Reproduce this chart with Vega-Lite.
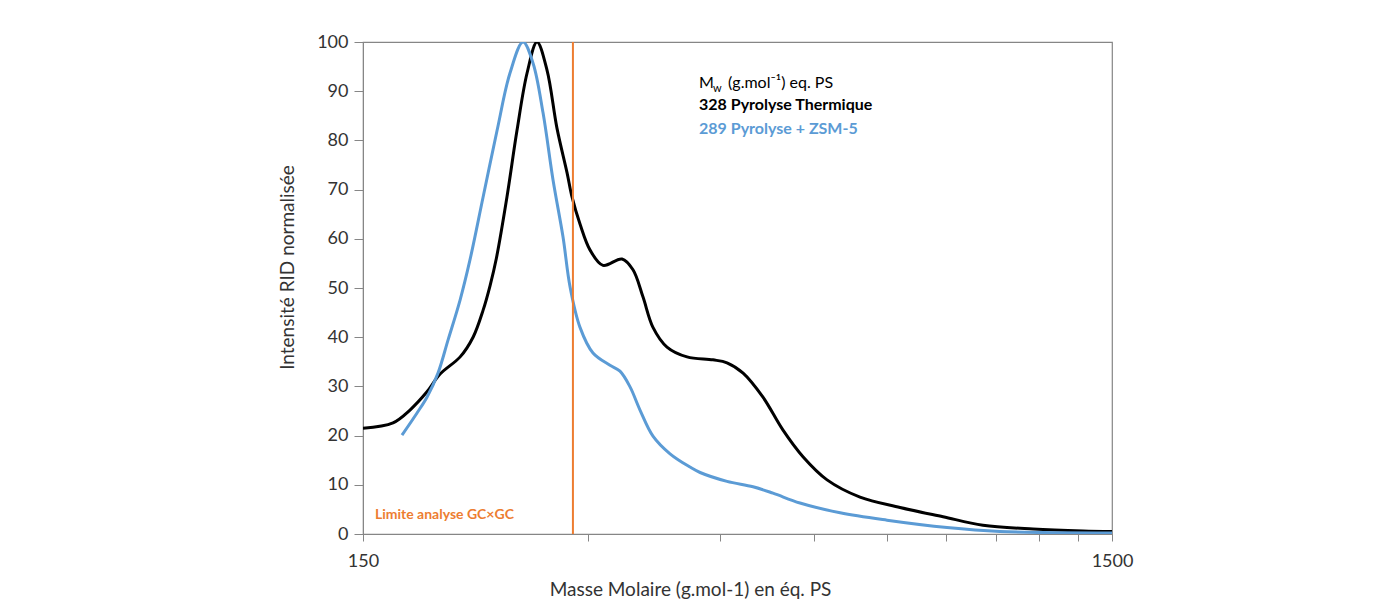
{
  "$schema": "https://vega.github.io/schema/vega-lite/v6.json",
  "width": 749,
  "height": 492,
  "autosize": {"type": "none"},
  "padding": {"left": 363, "top": 42, "right": 279, "bottom": 77},
  "background": "white",
  "config": {
    "view": {"stroke": "#868686", "strokeWidth": 1.2},
    "font": "Lato",
    "axis": {"domainColor": "#868686", "tickColor": "#868686", "labelColor": "#333333", "titleColor": "#333333", "labelFont": "Lato", "titleFont": "Lato", "titleFontWeight": "normal", "grid": false}
  },
  "layer": [
    {
      "data": {"values": [
        {"m": 150, "v": 21.5, "s": "328 Pyrolyse Thermique"},
        {"m": 164.5, "v": 22.6, "s": "328 Pyrolyse Thermique"},
        {"m": 173.3, "v": 25.2, "s": "328 Pyrolyse Thermique"},
        {"m": 182.6, "v": 28.9, "s": "328 Pyrolyse Thermique"},
        {"m": 190.1, "v": 32.5, "s": "328 Pyrolyse Thermique"},
        {"m": 202.2, "v": 36.0, "s": "328 Pyrolyse Thermique"},
        {"m": 210.4, "v": 40.0, "s": "328 Pyrolyse Thermique"},
        {"m": 217.0, "v": 45.5, "s": "328 Pyrolyse Thermique"},
        {"m": 221.7, "v": 50.5, "s": "328 Pyrolyse Thermique"},
        {"m": 226.0, "v": 56.0, "s": "328 Pyrolyse Thermique"},
        {"m": 233.5, "v": 68.5, "s": "328 Pyrolyse Thermique"},
        {"m": 240.8, "v": 82.0, "s": "328 Pyrolyse Thermique"},
        {"m": 248.4, "v": 93.7, "s": "328 Pyrolyse Thermique"},
        {"m": 256.1, "v": 100.0, "s": "328 Pyrolyse Thermique"},
        {"m": 264.1, "v": 94.3, "s": "328 Pyrolyse Thermique"},
        {"m": 272.3, "v": 82.5, "s": "328 Pyrolyse Thermique"},
        {"m": 280.9, "v": 73.4, "s": "328 Pyrolyse Thermique"},
        {"m": 285.2, "v": 68.5, "s": "328 Pyrolyse Thermique"},
        {"m": 292.3, "v": 63.0, "s": "328 Pyrolyse Thermique"},
        {"m": 301.5, "v": 57.7, "s": "328 Pyrolyse Thermique"},
        {"m": 313.7, "v": 54.6, "s": "328 Pyrolyse Thermique"},
        {"m": 332.6, "v": 55.9, "s": "328 Pyrolyse Thermique"},
        {"m": 344.0, "v": 53.7, "s": "328 Pyrolyse Thermique"},
        {"m": 354.7, "v": 48.2, "s": "328 Pyrolyse Thermique"},
        {"m": 365.8, "v": 42.0, "s": "328 Pyrolyse Thermique"},
        {"m": 381.9, "v": 38.0, "s": "328 Pyrolyse Thermique"},
        {"m": 406.2, "v": 36.0, "s": "328 Pyrolyse Thermique"},
        {"m": 439.9, "v": 35.4, "s": "328 Pyrolyse Thermique"},
        {"m": 459.3, "v": 34.8, "s": "328 Pyrolyse Thermique"},
        {"m": 482.6, "v": 32.7, "s": "328 Pyrolyse Thermique"},
        {"m": 513.0, "v": 27.8, "s": "328 Pyrolyse Thermique"},
        {"m": 545.6, "v": 21.1, "s": "328 Pyrolyse Thermique"},
        {"m": 580.1, "v": 15.7, "s": "328 Pyrolyse Thermique"},
        {"m": 624.7, "v": 11.0, "s": "328 Pyrolyse Thermique"},
        {"m": 691.3, "v": 7.5, "s": "328 Pyrolyse Thermique"},
        {"m": 781.8, "v": 5.4, "s": "328 Pyrolyse Thermique"},
        {"m": 892.3, "v": 3.5, "s": "328 Pyrolyse Thermique"},
        {"m": 1008.8, "v": 1.8, "s": "328 Pyrolyse Thermique"},
        {"m": 1176.5, "v": 1.0, "s": "328 Pyrolyse Thermique"},
        {"m": 1372.1, "v": 0.6, "s": "328 Pyrolyse Thermique"},
        {"m": 1500, "v": 0.5, "s": "328 Pyrolyse Thermique"},
        {"m": 169.1, "v": 20.1, "s": "289 Pyrolyse + ZSM-5"},
        {"m": 177.1, "v": 24.6, "s": "289 Pyrolyse + ZSM-5"},
        {"m": 182.6, "v": 27.8, "s": "289 Pyrolyse + ZSM-5"},
        {"m": 188.9, "v": 32.7, "s": "289 Pyrolyse + ZSM-5"},
        {"m": 194.8, "v": 39.4, "s": "289 Pyrolyse + ZSM-5"},
        {"m": 202.2, "v": 47.6, "s": "289 Pyrolyse + ZSM-5"},
        {"m": 208.4, "v": 55.7, "s": "289 Pyrolyse + ZSM-5"},
        {"m": 217.0, "v": 68.5, "s": "289 Pyrolyse + ZSM-5"},
        {"m": 226.5, "v": 82.0, "s": "289 Pyrolyse + ZSM-5"},
        {"m": 235.7, "v": 93.7, "s": "289 Pyrolyse + ZSM-5"},
        {"m": 245.3, "v": 100.0, "s": "289 Pyrolyse + ZSM-5"},
        {"m": 253.0, "v": 95.7, "s": "289 Pyrolyse + ZSM-5"},
        {"m": 260.9, "v": 85.6, "s": "289 Pyrolyse + ZSM-5"},
        {"m": 269.0, "v": 72.0, "s": "289 Pyrolyse + ZSM-5"},
        {"m": 277.4, "v": 60.4, "s": "289 Pyrolyse + ZSM-5"},
        {"m": 283.5, "v": 50.2, "s": "289 Pyrolyse + ZSM-5"},
        {"m": 292.3, "v": 42.0, "s": "289 Pyrolyse + ZSM-5"},
        {"m": 304.2, "v": 36.8, "s": "289 Pyrolyse + ZSM-5"},
        {"m": 320.5, "v": 34.3, "s": "289 Pyrolyse + ZSM-5"},
        {"m": 330.5, "v": 33.1, "s": "289 Pyrolyse + ZSM-5"},
        {"m": 340.9, "v": 29.9, "s": "289 Pyrolyse + ZSM-5"},
        {"m": 351.5, "v": 25.2, "s": "289 Pyrolyse + ZSM-5"},
        {"m": 365.8, "v": 19.9, "s": "289 Pyrolyse + ZSM-5"},
        {"m": 385.5, "v": 16.3, "s": "289 Pyrolyse + ZSM-5"},
        {"m": 409.9, "v": 13.6, "s": "289 Pyrolyse + ZSM-5"},
        {"m": 422.8, "v": 12.5, "s": "289 Pyrolyse + ZSM-5"},
        {"m": 459.3, "v": 10.7, "s": "289 Pyrolyse + ZSM-5"},
        {"m": 497.5, "v": 9.6, "s": "289 Pyrolyse + ZSM-5"},
        {"m": 529.0, "v": 8.3, "s": "289 Pyrolyse + ZSM-5"},
        {"m": 574.8, "v": 6.3, "s": "289 Pyrolyse + ZSM-5"},
        {"m": 650.3, "v": 4.3, "s": "289 Pyrolyse + ZSM-5"},
        {"m": 751.1, "v": 2.8, "s": "289 Pyrolyse + ZSM-5"},
        {"m": 903.3, "v": 1.3, "s": "289 Pyrolyse + ZSM-5"},
        {"m": 1062.9, "v": 0.5, "s": "289 Pyrolyse + ZSM-5"},
        {"m": 1500, "v": 0.2, "s": "289 Pyrolyse + ZSM-5"}
      ]},
      "mark": {"type": "line", "interpolate": "catmull-rom", "strokeWidth": 3, "clip": true},
      "encoding": {
        "x": {
          "field": "m", "type": "quantitative",
          "scale": {"type": "log", "domain": [150, 1500], "nice": false},
          "axis": {
            "title": "Masse Molaire (g.mol-1) en éq. PS",
            "values": [150, 300, 450, 600, 750, 900, 1050, 1200, 1350, 1500],
            "labelExpr": "datum.value == 150 ? '150' : (datum.value == 1500 ? '1500' : '')",
            "tickSize": 7, "labelPadding": 11, "labelFontSize": 18, "labelFlush": false,
            "titleFontSize": 19, "titleX": 327, "titleY": 55, "titleBaseline": "middle", "titleAlign": "center"
          }
        },
        "y": {
          "field": "v", "type": "quantitative",
          "scale": {"domain": [0, 100], "nice": false},
          "axis": {
            "title": "Intensité RID normalisée",
            "values": [0, 10, 20, 30, 40, 50, 60, 70, 80, 90, 100],
            "tickSize": 9, "labelPadding": 6, "labelFontSize": 18,
            "titleFontSize": 19, "titleX": -76, "titleY": 225, "titleAlign": "center", "titleBaseline": "middle"
          }
        },
        "color": {
          "field": "s", "type": "nominal",
          "scale": {"domain": ["328 Pyrolyse Thermique", "289 Pyrolyse + ZSM-5"], "range": ["#000000", "#5B9BD5"]},
          "legend": null
        },
        "order": {"field": "m", "type": "quantitative"}
      }
    },
    {
      "data": {"values": [{"m": 286}]},
      "mark": {"type": "rule", "color": "#ED7D31", "strokeWidth": 2},
      "encoding": {"x": {"field": "m", "type": "quantitative"}}
    },
    {
      "data": {"values": [
        {"m": 421.4, "v": 90.65, "t": "M"},
        {"m": 460.8, "v": 90.65, "t": "(g.mol⁻¹) eq. PS"}
      ]},
      "mark": {"type": "text", "align": "left", "baseline": "alphabetic", "fontSize": 16, "color": "#000000", "font": "Lato"},
      "encoding": {"x": {"field": "m", "type": "quantitative"}, "y": {"field": "v", "type": "quantitative"}, "text": {"field": "t"}}
    },
    {
      "data": {"values": [{"m": 439.9, "v": 89.9, "t": "w"}]},
      "mark": {"type": "text", "align": "left", "baseline": "alphabetic", "fontSize": 11, "color": "#000000", "font": "Lato"},
      "encoding": {"x": {"field": "m", "type": "quantitative"}, "y": {"field": "v", "type": "quantitative"}, "text": {"field": "t"}}
    },
    {
      "data": {"values": [{"m": 421.4, "v": 86.2, "t": "328 Pyrolyse Thermique"}]},
      "mark": {"type": "text", "align": "left", "baseline": "alphabetic", "fontSize": 16, "fontWeight": "bold", "color": "#000000", "font": "Lato"},
      "encoding": {"x": {"field": "m", "type": "quantitative"}, "y": {"field": "v", "type": "quantitative"}, "text": {"field": "t"}}
    },
    {
      "data": {"values": [{"m": 421.4, "v": 81.3, "t": "289 Pyrolyse + ZSM-5"}]},
      "mark": {"type": "text", "align": "left", "baseline": "alphabetic", "fontSize": 16, "fontWeight": "bold", "color": "#5B9BD5", "font": "Lato"},
      "encoding": {"x": {"field": "m", "type": "quantitative"}, "y": {"field": "v", "type": "quantitative"}, "text": {"field": "t"}}
    },
    {
      "data": {"values": [{"m": 155.6, "v": 3.05, "t": "Limite analyse GC×GC"}]},
      "mark": {"type": "text", "align": "left", "baseline": "alphabetic", "fontSize": 14, "fontWeight": "bold", "color": "#ED7D31", "font": "Lato"},
      "encoding": {"x": {"field": "m", "type": "quantitative"}, "y": {"field": "v", "type": "quantitative"}, "text": {"field": "t"}}
    }
  ]
}
